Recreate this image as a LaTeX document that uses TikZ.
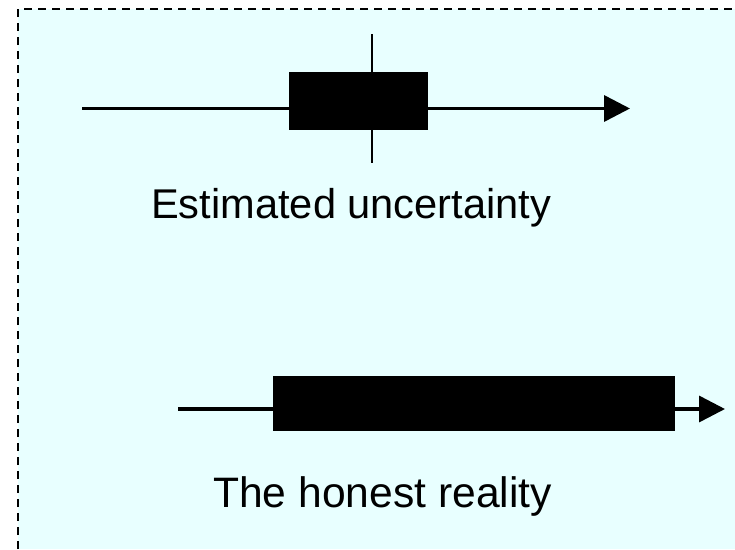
\documentclass[tikz,border=0pt]{standalone}
\usepackage{fontspec}
\setmainfont{Liberation Sans}
\usetikzlibrary{arrows.meta}
\definecolor{bgcyan}{RGB}{232,255,255}
\tikzset{
  bar/.style={fill=black, draw=none, inner sep=0pt, outer sep=0pt},
  axisline/.style={line width=3.5pt, -{Triangle[length=26pt,width=26pt]}},
  label/.style={inner sep=0pt, anchor=base west},
  frame/.style={line width=2.5pt, dash pattern=on 8pt off 6pt}
}
\begin{document}
\begin{tikzpicture}[x=1pt,y=-1pt]
\useasboundingbox (0,0) rectangle (735,549);
\fill[bgcyan] (18,9) rectangle (735,549);
\coordinate (fbl) at (18,549);
\coordinate (ftl) at (18,9);
\coordinate (ftr) at (735,9);
\draw[frame] (fbl) -- (ftl) -- (ftr);
% top: estimated uncertainty
\coordinate (s1) at (82,108.5);
\coordinate (e1) at (630,108.5);
\draw[axisline] (s1) -- (e1);
\node[bar, minimum width=139pt, minimum height=58pt] (box1) at (358.5,101) {};
\coordinate (v1t) at (372,34);
\coordinate (v1b) at (372,163);
\draw[line width=1.5pt] (v1t) -- (v1b);
\node[label, font=\fontsize{41.6}{48}\selectfont] (t1) at (151,218) {Estimated uncertainty};
% bottom: honest reality
\coordinate (s2) at (178,409);
\coordinate (e2) at (725,409);
\draw[axisline] (s2) -- (e2);
\node[bar, minimum width=402pt, minimum height=55pt] (box2) at (474,403.5) {};
\node[label, font=\fontsize{42.6}{48}\selectfont] (t2) at (213,507) {The honest reality};
\end{tikzpicture}
\end{document}
